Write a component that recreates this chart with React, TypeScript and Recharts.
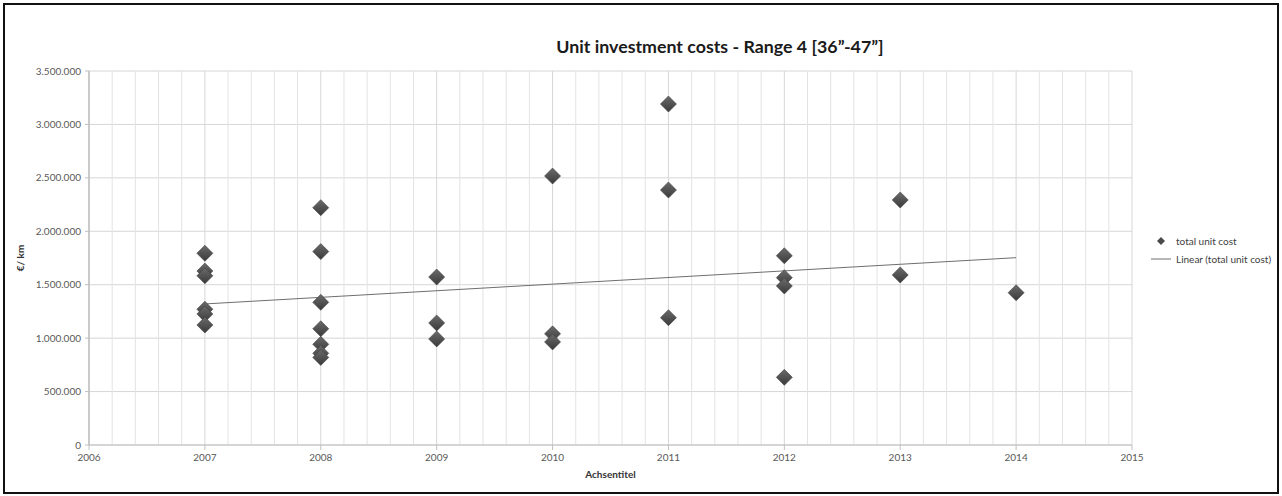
import React from 'react';
import {
  ScatterChart,
  Scatter,
  XAxis,
  YAxis,
  CartesianGrid,
  ReferenceLine,
} from 'recharts';

// observed points, one entry per project
const years = [
  2007, 2007, 2007, 2007, 2007, 2007,
  2008, 2008, 2008, 2008, 2008, 2008, 2008,
  2009, 2009, 2009,
  2010, 2010, 2010,
  2011, 2011, 2011,
  2012, 2012, 2012, 2012,
  2013, 2013,
  2014,
];
const unitCosts = [
  1794000, 1628000, 1584000, 1270000, 1226000, 1123000,
  2221000, 1810000, 1335000, 1088000, 942000, 858000, 820000,
  1572000, 1142000, 992000,
  2517000, 1040000, 965000,
  3191000, 2386000, 1191000,
  1771000, 1566000, 1488000, 633000,
  2293000, 1591000,
  1425000,
];

// linear trend end points as drawn
const trendYears = [2007, 2014];
const trendValues = [1320000, 1753000];

const yearTicks = [2006, 2007, 2008, 2009, 2010, 2011, 2012, 2013, 2014, 2015];
const minorTicks = [
  2006.2, 2006.4, 2006.6, 2006.8, 2007.2, 2007.4, 2007.6, 2007.8,
  2008.2, 2008.4, 2008.6, 2008.8, 2009.2, 2009.4, 2009.6, 2009.8,
  2010.2, 2010.4, 2010.6, 2010.8, 2011.2, 2011.4, 2011.6, 2011.8,
  2012.2, 2012.4, 2012.6, 2012.8, 2013.2, 2013.4, 2013.6, 2013.8,
  2014.2, 2014.4, 2014.6, 2014.8,
];
const costTicks = [0, 500000, 1000000, 1500000, 2000000, 2500000, 3000000, 3500000];

const points = years.map((year, i) => ({ year, cost: unitCosts[i] }));
const trend = trendYears.map((year, i) => ({ year, cost: trendValues[i] }));

const FONT = 'Lato, "Liberation Sans", sans-serif';

const fmtDe = (v: number) =>
  v === 0 ? '0' : String(Math.round(v)).replace(/\B(?=(\d{3})+(?!\d))/g, '.');

const Diamond = (props: any) => {
  const { cx, cy } = props;
  if (cx == null || cy == null) return null;
  const r = 8;
  return (
    <polygon
      points={`${cx},${cy - r} ${cx + r},${cy} ${cx},${cy + r} ${cx - r},${cy}`}
      fill="url(#diamondFill)"
      stroke="#3f3f3f"
      strokeWidth={0.6}
    />
  );
};

const LegendBox = () => (
  <div
    style={{
      position: 'absolute',
      left: 1150,
      top: 232,
      fontFamily: FONT,
      fontSize: 10,
      color: '#404040',
      lineHeight: '18px',
    }}
  >
    <div style={{ display: 'flex', alignItems: 'center' }}>
      <svg width={22} height={12}>
        <polygon points="11,2 15,6 11,10 7,6" fill="#4a4a4a" />
      </svg>
      <span style={{ marginLeft: 4 }}>total unit cost</span>
    </div>
    <div style={{ display: 'flex', alignItems: 'center' }}>
      <svg width={22} height={12}>
        <line x1={1} y1={6} x2={21} y2={6} stroke="#6e6e6e" strokeWidth={1} />
      </svg>
      <span style={{ marginLeft: 4 }}>Linear (total unit cost)</span>
    </div>
  </div>
);

export default function App() {
  return (
    <div style={{ position: 'relative', width: 1282, height: 496, background: '#fff' }}>
      <style>{'body{margin:0}'}</style>
      <ScatterChart
        width={1282}
        height={496}
        margin={{ top: 71, right: 150, bottom: 11, left: 0 }}
        style={{ position: 'absolute', top: 0, left: 0 }}
      >
        <defs>
          <linearGradient id="diamondFill" x1="0" y1="0" x2="0" y2="1">
            <stop offset="0%" stopColor="#6b6b6b" />
            <stop offset="100%" stopColor="#3a3a3a" />
          </linearGradient>
        </defs>
        <CartesianGrid stroke="#d6d6d6" />
        {minorTicks.map((t) => (
          <ReferenceLine key={t} x={t} stroke="#e3e3e3" strokeWidth={1} />
        ))}
        <ReferenceLine x={2006} stroke="#bfbfbf" />
        <XAxis
          type="number"
          dataKey="year"
          domain={[2006, 2015]}
          ticks={yearTicks}
          interval={0}
          height={40}
          stroke="#bfbfbf"
          tickSize={5}
          tickMargin={4}
          tick={{ fill: '#595959', fontSize: 10, fontFamily: FONT }}
          label={{
            value: 'Achsentitel',
            position: 'insideBottom',
            offset: 7,
            style: { fontFamily: FONT, fontSize: 10, fontWeight: 700, fill: '#333' },
          }}
        />
        <YAxis
          type="number"
          dataKey="cost"
          domain={[0, 3500000]}
          ticks={costTicks}
          interval={0}
          width={89}
          stroke="#bfbfbf"
          tickSize={4}
          tickMargin={4}
          tickFormatter={fmtDe}
          tick={{ fill: '#595959', fontSize: 10, fontFamily: FONT }}
          label={{
            value: '€/ km',
            angle: -90,
            position: 'insideLeft',
            offset: 20,
            style: { fontFamily: FONT, fontSize: 10, fontWeight: 700, fill: '#333', textAnchor: 'middle' },
          }}
        />
        <Scatter
          name="Linear (total unit cost)"
          data={trend}
          line={{ stroke: '#6e6e6e', strokeWidth: 1 }}
          shape={() => null}
          isAnimationActive={false}
        />
        <Scatter
          name="total unit cost"
          data={points}
          shape={Diamond}
          isAnimationActive={false}
        />
      </ScatterChart>
      <div
        style={{
          position: 'absolute',
          top: 35,
          left: 89,
          width: 1262,
          textAlign: 'center',
          fontFamily: FONT,
          fontWeight: 700,
          fontSize: 17.8,
          color: '#1a1a1a',
        }}
      >
        Unit investment costs - Range 4 [36”-47”]
      </div>
      <LegendBox />
      <div
        style={{
          position: 'absolute',
          left: 3,
          top: 3,
          width: 1276,
          height: 491,
          border: '2px solid #111',
          boxSizing: 'border-box',
          pointerEvents: 'none',
        }}
      />
    </div>
  );
}
